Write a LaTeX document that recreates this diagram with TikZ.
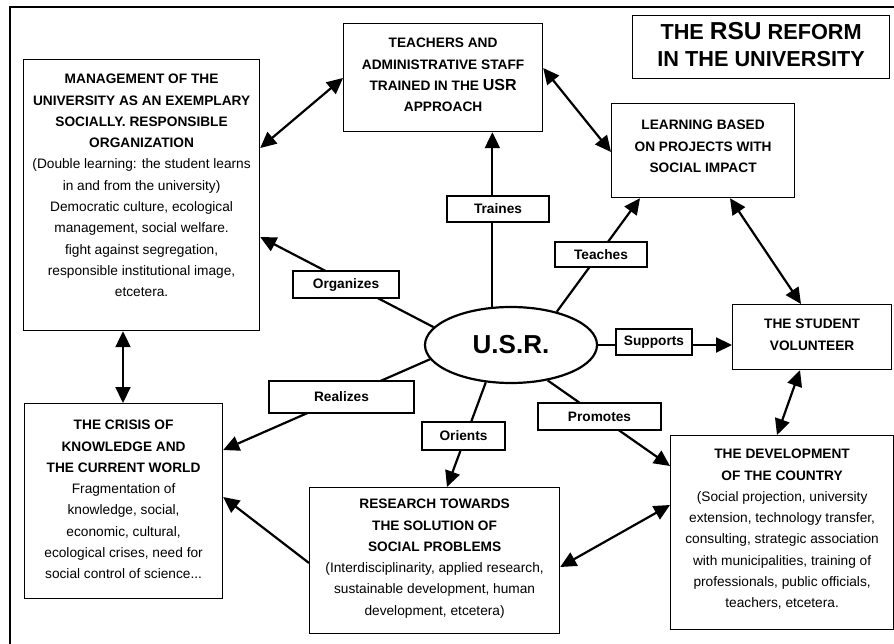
\documentclass[tikz,border=0pt]{standalone}
\usepackage{fontspec}
\setmainfont{Liberation Sans}
\usetikzlibrary{arrows.meta,shapes.geometric,calc}
\tikzset{
  frame/.style={line width=2.6pt},
  box/.style={draw, line width=1.2pt, inner sep=0pt, anchor=north west},
  txt/.style={inner sep=0pt, align=center, anchor=north, font=\fontsize{13.7}{21.3}\selectfont},
  lbl/.style={draw, fill=white, line width=1.3pt, inner sep=0pt, font=\bfseries\fontsize{13.7}{16}\selectfont},
  arr/.style={line width=2.2pt, -{Triangle[length=16pt,width=15pt]}},
  darr/.style={line width=2.2pt, {Triangle[length=16pt,width=15pt]}-{Triangle[length=16pt,width=15pt]}}
}
\begin{document}
\begin{tikzpicture}[x=1pt,y=-1pt]
\useasboundingbox (0,0) rectangle (894,644);
\coordinate (fb) at (10,650);
\coordinate (ftl) at (10,7);
\coordinate (fr) at (900,7);
\draw[frame] (fb) -- (ftl) -- (fr);

% boxes
\node[box, minimum width=236pt, minimum height=271pt] (mgmt) at (23,59) {};
\node[box, minimum width=199pt, minimum height=108pt] (teach) at (343,23) {};
\node[box, minimum width=257pt, minimum height=63pt] (title) at (632,15) {};
\node[box, minimum width=183pt, minimum height=94pt] (learn) at (611,103) {};
\node[box, minimum width=159pt, minimum height=65pt] (stud) at (732,304) {};
\node[box, minimum width=198pt, minimum height=195pt] (crisis) at (24,403) {};
\node[box, minimum width=250pt, minimum height=146pt] (res) at (309,487) {};
\node[box, minimum width=223pt, minimum height=194pt] (dev) at (670,435) {};
\node[draw, ellipse, line width=2.2pt, inner sep=0pt, minimum width=172pt, minimum height=76pt,
      font=\bfseries\fontsize{26}{30}\selectfont] (usr) at (511,345) {U.S.R.};

% texts
\node[txt] (mgmt-t) at ($(mgmt.north)+(0,15)$) {\textbf{MANAGEMENT OF THE}\\ \textbf{UNIVERSITY AS AN EXEMPLARY}\\ \textbf{SOCIALLY. RESPONSIBLE}\\ \textbf{ORGANIZATION}\\ (Double learning: the student learns\\ in and from the university)\\ Democratic culture, ecological\\ management, social welfare.\\ fight against segregation,\\ responsible institutional image,\\ etcetera.};
\node[txt, font=\bfseries\fontsize{13.7}{21.3}\selectfont] (teach-t) at ($(teach.north)+(0,15)$) {TEACHERS AND\\ ADMINISTRATIVE STAFF\\ TRAINED IN THE {\fontsize{16}{21.3}\selectfont USR}\\ APPROACH};
\node[txt, font=\bfseries\fontsize{21.7}{26.7}\selectfont] (title-t) at ($(title.north)+(0,7)$) {THE {\fontsize{24.5}{26.7}\selectfont RSU} REFORM\\ IN THE UNIVERSITY};
\node[txt, font=\bfseries\fontsize{13.7}{21.3}\selectfont] (learn-t) at ($(learn.north)+(0,17)$) {LEARNING BASED\\ ON PROJECTS WITH\\ SOCIAL IMPACT};
\node[txt, font=\bfseries\fontsize{13.7}{21.3}\selectfont] (stud-t) at ($(stud.north)+(0,15)$) {THE STUDENT\\ VOLUNTEER};
\node[txt] (crisis-t) at ($(crisis.north)+(0,17)$) {\textbf{THE CRISIS OF}\\ \textbf{KNOWLEDGE AND}\\ \textbf{THE CURRENT WORLD}\\ Fragmentation of\\ knowledge, social,\\ economic, cultural,\\ ecological crises, need for\\ social control of science...};
\node[txt] (res-t) at ($(res.north)+(0,12)$) {\textbf{RESEARCH TOWARDS}\\ \textbf{THE SOLUTION OF}\\ \textbf{SOCIAL PROBLEMS}\\ (Interdisciplinarity, applied research,\\ sustainable development, human\\ development, etcetera)};
\node[txt] (dev-t) at ($(dev.north)+(0,14)$) {\textbf{THE DEVELOPMENT}\\ \textbf{OF THE COUNTRY}\\ (Social projection, university\\ extension, technology transfer,\\ consulting, strategic association\\ with municipalities, training of\\ professionals, public officials,\\ teachers, etcetera.};

% double arrows between boxes
\draw[darr] ($(mgmt.north east)+(0,89)$) -- ($(teach.north west)+(0,55)$);
\draw[darr] ($(teach.north east)+(0,45)$) -- ($(learn.north west)+(0,49)$);
\draw[darr] ($(learn.south west)+(119,0)$) -- ($(stud.north west)+(69,0)$);
\draw[darr] ($(mgmt.south west)+(100,0)$) -- ($(crisis.north west)+(99,0)$);
\draw[darr] ($(stud.south west)+(68,0)$) -- ($(dev.north west)+(107,0)$);
\draw[darr] ($(res.north east)+(0,80)$) -- ($(dev.north west)+(0,70)$);
\draw[arr] ($(res.north west)+(0,76)$) -- ($(crisis.north east)+(0,94)$);

% arrows from U.S.R.
\draw[arr] (usr.116) -- (usr.116 |- teach.south);
\draw[arr] (usr.36) -- ($(learn.south west)+(29,0)$);
\draw[arr] (usr.167) -- ($(mgmt.north east)+(0,178)$);
\draw[arr] (usr.190) -- ($(crisis.north east)+(0,47)$);
\draw[arr] (usr.236) -- ($(res.north west)+(138,0)$);
\draw[arr] (usr.-44) -- ($(dev.north west)+(0,31)$);
\draw[arr] (usr.east) -- (usr.east -| stud.west);

% labels
\node[lbl, minimum width=102pt, minimum height=26pt] (l-train) at (498,209) {Traines};
\node[lbl, minimum width=92pt, minimum height=25pt] (l-teach) at (601,254.5) {Teaches};
\node[lbl, minimum width=106pt, minimum height=27pt] (l-org) at (346,284.5) {Organizes};
\node[lbl, minimum width=145pt, minimum height=32pt] (l-real) at (341.5,397) {Realizes};
\node[lbl, minimum width=83pt, minimum height=28pt] (l-ori) at (463.5,436) {Orients};
\node[lbl, minimum width=76pt, minimum height=26pt] (l-sup) at (654,342) {Supports};
\node[lbl, minimum width=123pt, minimum height=27pt] (l-pro) at (599.5,416.5) {Promotes};
\end{tikzpicture}
\end{document}
